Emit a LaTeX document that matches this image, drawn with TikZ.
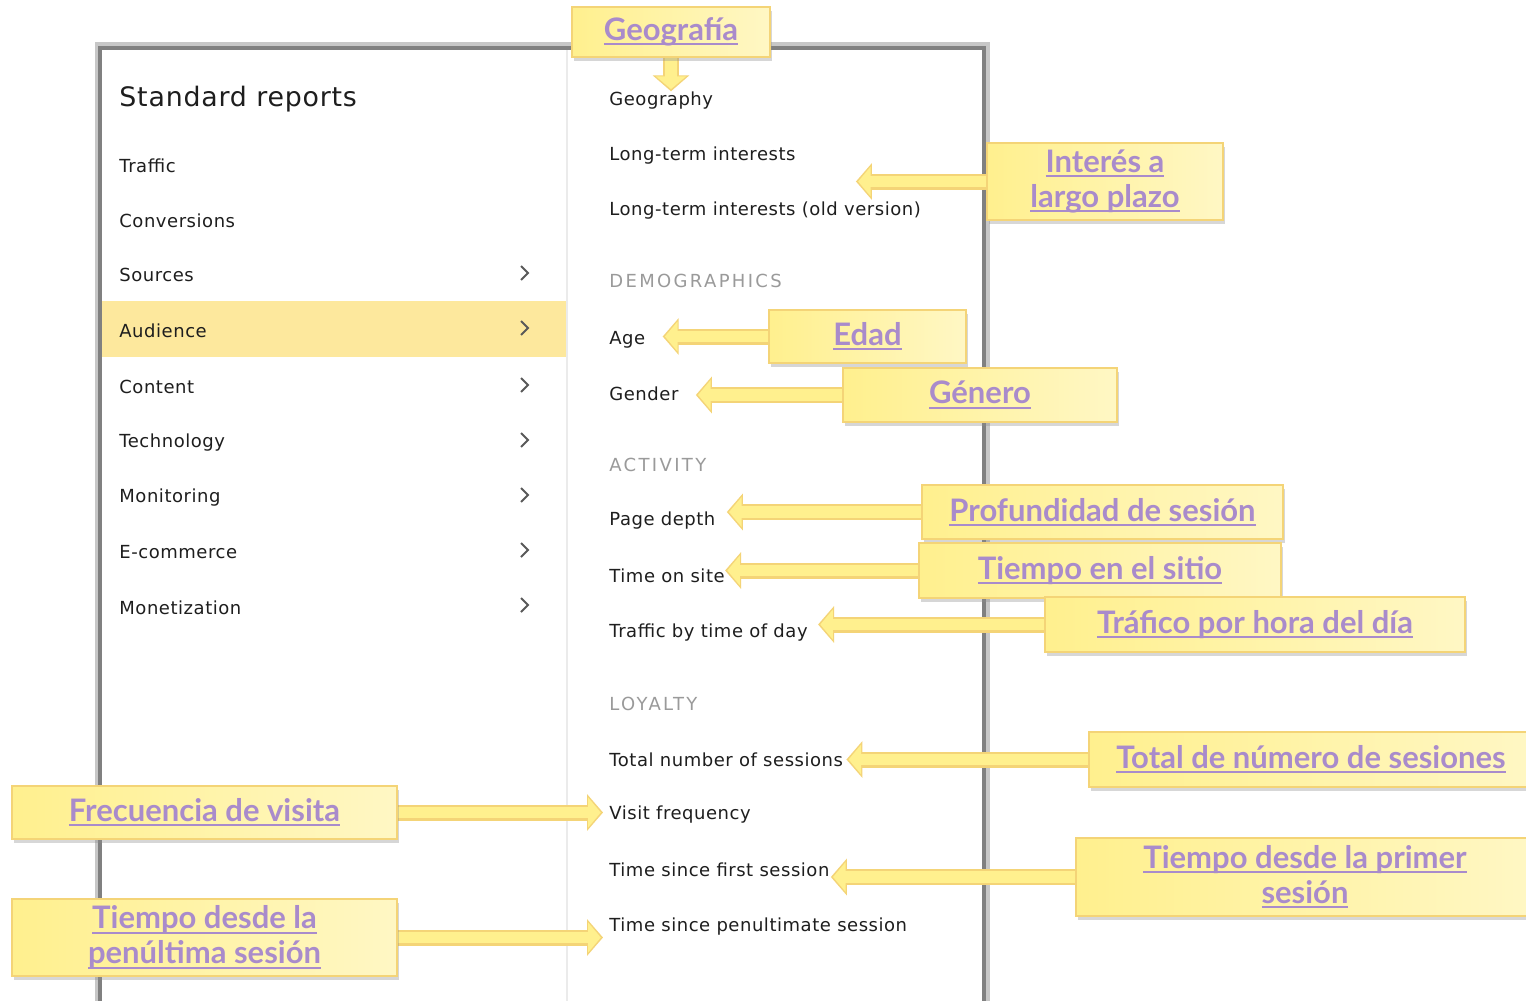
\documentclass[tikz,border=0pt]{standalone}
\usepackage{fontspec}
\setmainfont{DejaVu Sans}[LetterSpace=3]
\newfontfamily\callfont{Lato}
\newfontfamily\headfont{DejaVu Sans}[LetterSpace=13]
\usetikzlibrary{positioning,arrows.meta,shadows}
\definecolor{callfill}{HTML}{FFF08E}
\definecolor{callfill2}{HTML}{FFF7C4}
\definecolor{callline}{HTML}{F4D477}
\definecolor{linkpurple}{HTML}{A98BCB}
\definecolor{rowyellow}{HTML}{FDE89D}
\definecolor{headgray}{HTML}{9A9A9A}
\definecolor{menutext}{HTML}{1E1E1E}
\newsavebox\lnkbox
\newcommand\lnk[1]{\sbox\lnkbox{#1}\rlap{\rule[-2.4pt]{\wd\lnkbox}{1pt}}\usebox\lnkbox}
\pgfdeclarelayer{panel}
\pgfdeclarelayer{arrowlayer}
\pgfsetlayers{panel,arrowlayer,main}

\begin{document}
\begin{tikzpicture}[x=0.5pt, y=-0.5pt,
  menu/.style={anchor=west, inner sep=0pt, yshift=-1.2pt, text=menutext, font=\fontsize{9}{11}\selectfont},
  head/.style={anchor=west, inner sep=0pt, yshift=-1.2pt, text=headgray, font=\headfont\fontsize{9}{11}\selectfont},
  callout/.style={draw=callline, line width=0.8pt, left color=callfill, right color=callfill2,
    drop shadow={shadow xshift=1pt, shadow yshift=-2pt, opacity=.35, fill=black!45},
    inner sep=0pt, align=center, text=linkpurple, font=\callfont\bfseries\fontsize{15.5}{17.5}\selectfont},
  arrowout/.style={draw=callline, line width=8pt, -{Triangle[width=18pt,length=8pt]}},
  arrowin/.style={draw=callfill, line width=5.6pt, -{Triangle[width=14.6pt,length=6.3pt]}, shorten >=1.1pt},
  chev/.style={draw=black!65, line width=1pt}]
\useasboundingbox (0,0) rectangle (1526,1001);

\begin{pgfonlayer}{panel}
\fill[black!22] (95,42) rectangle (990,1001);
\fill[black!50] (98,46) rectangle (986,1001);
\fill[white] (102,50) rectangle (982,1001);
\fill[rowyellow] (102,301) rectangle (566,357);
\draw[black!8, line width=1pt] (567,50) -- (567,1001);
\end{pgfonlayer}

% left column
\node[menu, font=\fontsize{13.4}{15}\selectfont] (std) at (119,97) {Standard reports};
\node[menu] (traffic) at (119,163) {Traffic};
\node[menu] (conv) at (119,218) {Conversions};
\node[menu] (sources) at (119,273) {Sources};
\node[menu] (audience) at (119,328) {Audience};
\node[menu] (content) at (119,385) {Content};
\node[menu] (tech) at (119,440) {Technology};
\node[menu] (monit) at (119,495) {Monitoring};
\node[menu] (ecom) at (119,550) {E-commerce};
\node[menu] (monet) at (119,605) {Monetization};
\foreach \y in {273,328,385,440,495,550,605}
  \draw[chev] (521,\y-7) -- (528,\y) -- (521,\y+7);

% right column
\node[menu] (geography) at (609,98) {Geography};
\node[menu] (lti) at (609,153) {Long-term interests};
\node[menu] (ltiold) at (609,208) {Long-term interests (old version)};
\node[head] (demog) at (609,279) {DEMOGRAPHICS};
\node[menu] (age) at (609,337) {Age};
\node[menu] (gender) at (609,391) {Gender};
\node[head] (activity) at (609,463) {ACTIVITY};
\node[menu] (pagedepth) at (609,518) {Page depth};
\node[menu] (timesite) at (609,573) {Time on site};
\node[menu] (trafficday) at (609,630) {Traffic by time of day};
\node[head] (loyalty) at (609,702) {LOYALTY};
\node[menu] (totalsess) at (609,757) {Total number of sessions};
\node[menu] (visitfreq) at (609,812) {Visit frequency};
\node[menu] (firstsess) at (609,867) {Time since first session};
\node[menu] (penultsess) at (609,924) {Time since penultimate session};

% callouts
\node[callout, minimum width=99pt, minimum height=25pt] (geo) at (671,32) {\lnk{Geografía}};
\node[callout, minimum width=118pt, minimum height=38.5pt] (interes) at (1105,181.5) {\lnk{Interés a}\\\lnk{largo plazo}};
\node[callout, minimum width=98.5pt, minimum height=26.5pt] (edad) at (867.5,336.5) {\lnk{Edad}};
\node[callout, minimum width=137pt, minimum height=27pt] (genero) at (980,395) {\lnk{Género}};
\node[callout, minimum width=180.5pt, minimum height=27pt] (profund) at (1102.5,512) {\lnk{Profundidad de sesión}};
\node[callout, minimum width=181pt, minimum height=27.5pt] (tsitio) at (1100,570.5) {\lnk{Tiempo en el sitio}};
\node[callout, minimum width=210pt, minimum height=27.5pt] (trafico) at (1255,624.5) {\lnk{Tráfico por hora del día}};
\node[callout, minimum width=222pt, minimum height=27.5pt] (totses) at (1311,759.5) {\lnk{Total de número de sesiones}};
\node[callout, minimum width=192.5pt, minimum height=26.5pt] (frecuencia) at (204.5,812.5) {\lnk{Frecuencia de visita}};
\node[callout, minimum width=229pt, minimum height=39pt] (primer) at (1305,877) {\lnk{Tiempo desde la primer}\\\lnk{sesión}};
\node[callout, minimum width=192.5pt, minimum height=38.5pt] (penult) at (204.5,937.5) {\lnk{Tiempo desde la}\\\lnk{penúltima sesión}};

\begin{pgfonlayer}{arrowlayer}
\foreach \s/\t in {
  {(geo.south)}/{(geo.south |- geography.north)},
  {(interes.west)}/{([xshift=30pt]interes.west -| lti.east)},
  {(edad.west)}/{([xshift=8.5pt]edad.west -| age.east)},
  {(genero.west)}/{([xshift=8.5pt]genero.west -| gender.east)},
  {(profund.west)}/{([xshift=5.5pt]profund.west -| pagedepth.east)},
  {(tsitio.west)}/{(tsitio.west -| timesite.east)},
  {(trafico.west)}/{([xshift=5pt]trafico.west -| trafficday.east)},
  {(totses.west)}/{([xshift=1.5pt]totses.west -| totalsess.east)},
  {(primer.west)}/{([xshift=0.5pt]primer.west -| firstsess.east)},
  {(frecuencia.east)}/{([xshift=-3pt]frecuencia.east -| visitfreq.west)},
  {(penult.east)}/{([xshift=-3pt]penult.east -| penultsess.west)}}
{
  \draw[arrowout] \s -- \t;
  \draw[arrowin] \s -- \t;
}
\end{pgfonlayer}
\end{tikzpicture}
\end{document}
